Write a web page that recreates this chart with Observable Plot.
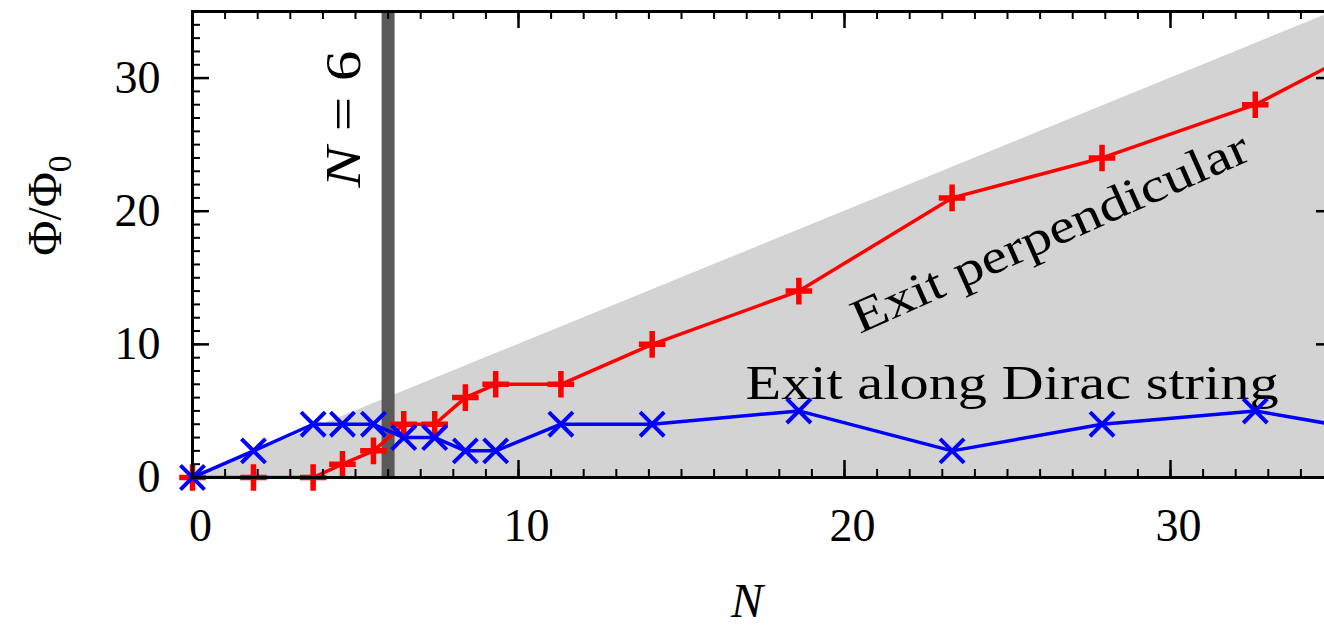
<!DOCTYPE html>
<html><head><meta charset="utf-8">
<script src="https://cdn.jsdelivr.net/npm/d3@7"></script>
<script src="https://cdn.jsdelivr.net/npm/@observablehq/plot@0.6"></script>
<style>
html,body{margin:0;padding:0;background:#fff;overflow:hidden;}
svg{max-width:none !important;}
</style></head><body>
<div id="chart"></div>
<script>
// ---- data ----
const nValues          = [0, 1.87, 3.7, 4.6, 5.55, 6.48, 7.43, 8.37, 9.3, 11.3, 14.1, 18.6, 23.3, 27.9, 32.6, 37.3];
const perpendicularPhi = [0, 0,    0,   1,   2,    4,    4,    6,    7,   7,    10,   14,   21,   24,   28,   34];
const diracPhi         = [0, 2,    4,   4,   4,    3,    3,    2,    2,   4,    4,    5,    2,    4,    5,    3];
const boundN   = [0, 35];
const boundPhi = [0, 35];
const markerN  = [6];
const xTicks = [0, 10, 20, 30];
const yTicks = [0, 10, 20, 30];
const xMinor = d3.range(0, 36);
const yMinor = d3.range(0, 36);
const perpLabel  = ["Exit perpendicular"];
const diracLabel = ["Exit along Dirac string"];
const xTitle = ["N"];
const yTitle = ["Φ/Φ"];

// ---- layout ----
const W = 1340, H = 626, mL = 192, mR = 7, mT = 11, mB = 149;
const fW = W - mL - mR, fH = H - mT - mB;

const perp  = nValues.map((n, i) => ({n, phi: perpendicularPhi[i]}));
const dirac = nValues.map((n, i) => ({n, phi: diracPhi[i]}));
const bound = boundN.map((n, i) => ({n, phi: boundPhi[i]}));

const serif = "'Liberation Serif', 'DejaVu Serif', serif";

const chart = Plot.plot({
  width: W, height: H,
  marginLeft: mL, marginRight: mR, marginTop: mT, marginBottom: mB,
  style: {fontFamily: serif, fontSize: "46px", background: "#fff", maxWidth: "none", color: "#000"},
  x: {domain: [0, 35]},
  y: {domain: [0, 35]},
  marks: [
    Plot.areaY(bound, {x: "n", y: "phi", fill: "#d3d3d3"}),
    Plot.ruleX(markerN, {x: d => d, stroke: "#595959", strokeWidth: 13}),
    Plot.text(markerN, {x: d => d, text: d => `N = ${d}`, frameAnchor: "top", dx: -44, dy: 39,
      rotate: -90, textAnchor: "end", lineAnchor: "middle", fontSize: 50, ariaLabel: () => "nlabel"}),
    Plot.text(perpLabel, {x: () => 26.3, y: () => 18.4, text: d => d, rotate: -24,
      textAnchor: "middle", lineAnchor: "middle", fontSize: 48, ariaLabel: () => "perplabel"}),
    Plot.text(diracLabel, {x: () => 25.14, y: () => 5.93, text: d => d,
      textAnchor: "middle", lineAnchor: "bottom", fontSize: 48, ariaLabel: () => "diraclabel"}),
    Plot.line(perp, {x: "n", y: "phi", stroke: "#ff0000", strokeWidth: 3.5, clip: true}),
    Plot.dot(perp, {x: "n", y: "phi", symbol: "plus", r: 8.6, stroke: "#ff0000", strokeWidth: 5.5}),
    Plot.line(dirac, {x: "n", y: "phi", stroke: "#0000ff", strokeWidth: 3.5, clip: true}),
    Plot.dot(dirac, {x: "n", y: "phi", symbol: "times", r: 11, stroke: "#0000ff", strokeWidth: 4}),
    // inward ticks on all four sides
    Plot.tickX(xMinor, {x: d => d, insetTop: fH - 8, strokeWidth: 2, stroke: "#000"}),
    Plot.tickX(xMinor, {x: d => d, insetBottom: fH - 8, strokeWidth: 2, stroke: "#000"}),
    Plot.tickX(xTicks, {x: d => d, insetTop: fH - 17, strokeWidth: 2.5, stroke: "#000"}),
    Plot.tickX(xTicks, {x: d => d, insetBottom: fH - 17, strokeWidth: 2.5, stroke: "#000"}),
    Plot.tickY(yMinor, {y: d => d, insetRight: fW - 8, strokeWidth: 2, stroke: "#000"}),
    Plot.tickY(yMinor, {y: d => d, insetLeft: fW - 8, strokeWidth: 2, stroke: "#000"}),
    Plot.tickY(yTicks, {y: d => d, insetRight: fW - 17, strokeWidth: 2.5, stroke: "#000"}),
    Plot.tickY(yTicks, {y: d => d, insetLeft: fW - 17, strokeWidth: 2.5, stroke: "#000"}),
    Plot.frame({stroke: "#000", strokeWidth: 3}),
    Plot.axisX({ticks: xTicks, anchor: "bottom", tickSize: 0, tickPadding: 31, dx: 8, fontSize: 46, label: null}),
    Plot.axisY({ticks: yTicks, anchor: "left", tickSize: 0, tickPadding: 32, fontSize: 46, label: null}),
    Plot.text(xTitle, {text: d => d, frameAnchor: "bottom", dx: -16, dy: 139, lineAnchor: "bottom",
      fontStyle: "italic", fontSize: 48}),
    Plot.text(yTitle, {text: d => d, frameAnchor: "left", dx: -147, dy: -39, rotate: -90,
      textAnchor: "middle", lineAnchor: "middle", fontSize: 48, ariaLabel: () => "ytitle"})
  ]
});

// typographic touches: stretch annotation text, italic N, subscript 0
const ns = "http://www.w3.org/2000/svg";
function fit(label, len) {
  const t = chart.querySelector(`text[aria-label="${label}"]`);
  if (t) { t.setAttribute("textLength", len); t.setAttribute("lengthAdjust", "spacingAndGlyphs"); }
  return t;
}
fit("perplabel", 430);
fit("diraclabel", 533);
const nl = fit("nlabel", 137);
if (nl) {
  const rest = nl.textContent.slice(1);
  nl.textContent = "";
  const it = document.createElementNS(ns, "tspan");
  it.setAttribute("font-style", "italic");
  it.textContent = "N";
  nl.appendChild(it);
  nl.appendChild(document.createTextNode(rest));
}
const yt = chart.querySelector('text[aria-label="ytitle"]');
if (yt) {
  const sub = document.createElementNS(ns, "tspan");
  sub.setAttribute("font-size", "0.7em");
  sub.setAttribute("dy", "0.3em");
  sub.textContent = "0";
  yt.appendChild(sub);
}
document.getElementById("chart").appendChild(chart);
</script>
</body></html>
